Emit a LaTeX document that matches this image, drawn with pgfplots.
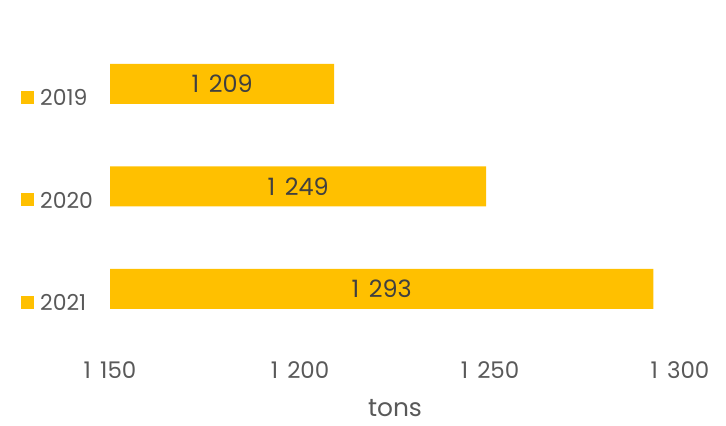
\documentclass[border=0pt]{standalone}
\usepackage{fontspec}
\setmainfont{Poppins}
\usepackage{pgfplots}
\pgfplotsset{compat=1.18}
\definecolor{barc}{HTML}{FFC000}
\definecolor{txt}{HTML}{595959}
\definecolor{lbl}{HTML}{404040}
\newcommand{\yr}[1]{\textcolor{barc}{\raisebox{2bp}{\rule{13bp}{13bp}}}\hspace{6bp}\makebox[52bp][l]{#1}}
\begin{document}
\begin{tikzpicture}[x=1bp,y=1bp]
\useasboundingbox (0,0) rectangle (726,425);
\begin{axis}[
  at={(110bp,85bp)}, anchor=south west,
  scale only axis, width=570bp, height=307.5bp,
  xbar, bar width=40bp,
  xmin=1150, xmax=1300,
  ymin=-0.5, ymax=2.5,
  y dir=reverse,
  xtick={1150,1200,1250,1300},
  ytick={0,1,2},
  yticklabels={\yr{2019},\yr{2020},\yr{2021}},
  axis line style={draw=none},
  major tick style={draw=none},
  /pgf/number format/assume math mode=true,
  /pgf/number format/1000 sep={\hspace{0.4em}},
  xticklabel style={font=\fontsize{23}{27}\selectfont, text=txt, anchor=center, yshift=-30bp},
  yticklabel style={font=\fontsize{22}{26}\selectfont, text=txt, anchor=east, yshift=-14bp, xshift=-10bp},
  xlabel={tons},
  xlabel style={font=\fontsize{25}{29}\selectfont, text=txt,
    at={(axis description cs:0.5,0)}, anchor=center, yshift=-68bp},
  point meta=explicit,
]
\addplot[fill=barc, draw=none,
  visualization depends on={\thisrow{v} \as \val},
  nodes near coords={\pgfmathprintnumber{\pgfplotspointmeta}},
  nodes near coords style={font=\fontsize{24}{28}\selectfont, text=lbl, anchor=center,
    shift={(axis direction cs:{-(\val-1150)/2},0)}}]
  table[x=v, y=y, meta=v] {
  y v
  0 1209
  1 1249
  2 1293
};
\end{axis}
\end{tikzpicture}
\end{document}
